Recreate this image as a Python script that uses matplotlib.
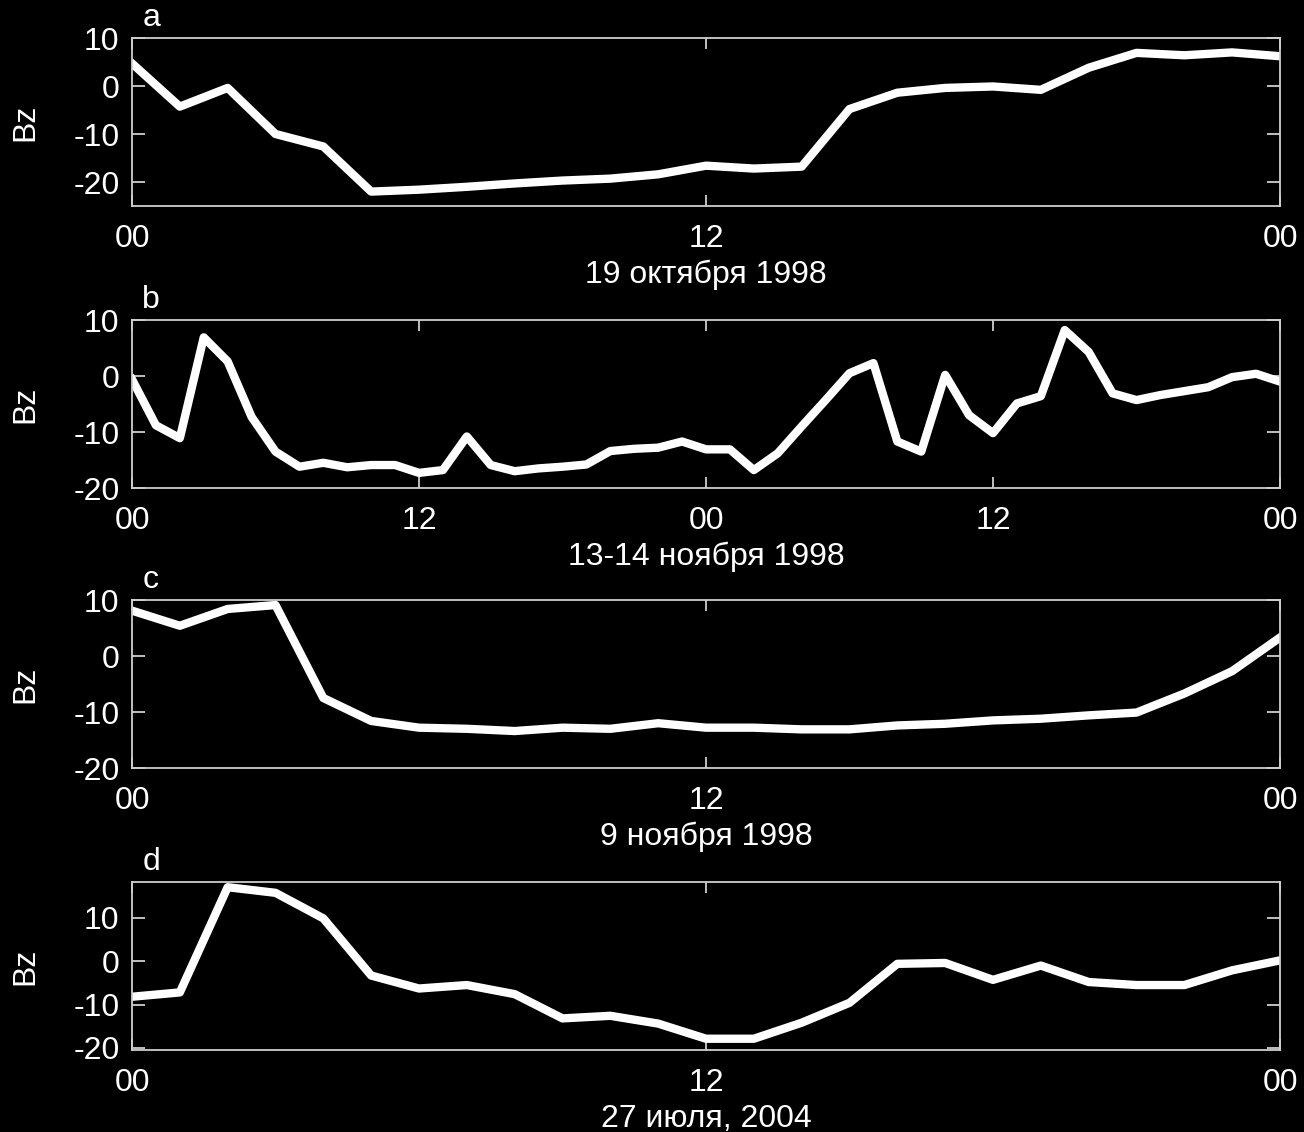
import numpy as np
import matplotlib
matplotlib.use('Agg')
import matplotlib.pyplot as plt

plt.rcParams['font.family'] = ['Liberation Sans', 'DejaVu Sans']

# Bz, hourly values
bz_a = [4.7, -4.3, -0.4, -10.0, -12.6, -22.0, -21.6, -21.0, -20.3, -19.7, -19.3, -18.4,
        -16.6, -17.2, -16.8, -4.8, -1.4, -0.4, -0.1, -0.8, 3.8, 6.9, 6.4, 7.0, 6.2]
bz_b = [-0.6, -8.8, -11.1, 6.9, 2.6, -7.3, -13.5, -16.2, -15.5, -16.3, -15.9, -15.9,
        -17.3, -16.8, -10.8, -15.9, -17.0, -16.5, -16.2, -15.8, -13.4, -13.0, -12.8,
        -11.7, -13.1, -13.1, -16.8, -13.8, -9.0, -4.3, 0.5, 2.3, -11.7, -13.5, 0.2,
        -7.0, -10.2, -4.9, -3.6, 8.2, 4.3, -3.1, -4.3, -3.4, -2.7, -2.0, -0.2, 0.4, -1.0]
bz_c = [8.1, 5.4, 8.4, 9.1, -7.5, -11.6, -12.8, -13.0, -13.4, -12.8, -13.0, -12.0,
        -12.8, -12.8, -13.1, -13.1, -12.4, -12.1, -11.5, -11.2, -10.6, -10.1, -6.7, -2.7, 3.3]
bz_d = [-8.2, -7.2, 17.1, 15.8, 9.9, -3.3, -6.3, -5.5, -7.6, -13.2, -12.6, -14.4,
        -17.9, -17.9, -14.2, -9.6, -0.6, -0.4, -4.3, -1.0, -4.8, -5.5, -5.5, -2.1, 0.2]

series = [bz_a, bz_b, bz_c, bz_d]
letters = ['a', 'b', 'c', 'd']
dates = ['19 октября 1998', '13-14 ноября 1998', '9 ноября 1998', '27 июля, 2004']
ylims = [(-25, 10), (-20, 10), (-20, 10), (-20.5, 18.3)]
yticks = [-20, -10, 0, 10]
xticklabels_24 = ['00', '12', '00']
xticklabels_48 = ['00', '12', '00', '12', '00']

W, H = 1304, 1132
fig = plt.figure(figsize=(W / 100, H / 100), dpi=100, facecolor='black')
tops = [38, 320, 600, 882]
fs = 23
edge = '#cfcfcf'

for i in range(4):
    top = tops[i]
    ax = fig.add_axes([132 / W, 1 - (top + 168) / H, 1148 / W, 168 / H])
    ax.set_facecolor('black')
    vals = series[i]
    hours = np.arange(len(vals))
    ax.plot(hours, vals, color='white', lw=6)
    nh = len(vals) - 1
    ax.set_xlim(0, nh)
    ax.set_ylim(*ylims[i])
    ax.set_xticks(np.arange(0, nh + 1, 12))
    ax.set_xticklabels(xticklabels_48 if nh == 48 else xticklabels_24)
    ax.set_yticks(yticks)
    ax.set_yticklabels([str(v) for v in yticks])
    for s in ax.spines.values():
        s.set_color(edge)
        s.set_linewidth(1.3)
    ax.tick_params(axis='x', direction='in', length=8, width=1.3, color=edge,
                   top=True, labelcolor='white', labelsize=fs, pad=13)
    ax.tick_params(axis='y', direction='in', length=9.5, width=1.3, color=edge,
                   right=True, labelcolor='white', labelsize=fs, pad=9)
    ax.set_xlabel(dates[i], color='white', fontsize=fs, labelpad=4)
    ax.set_ylabel('Bz', color='white', fontsize=fs)
    ax.yaxis.set_label_coords(-0.080, 0.5)
    ax.text(0.009, 1.07, letters[i], transform=ax.transAxes, color='white',
            fontsize=fs, va='baseline', ha='left')

fig.savefig('out.png', dpi=100, facecolor='black')
